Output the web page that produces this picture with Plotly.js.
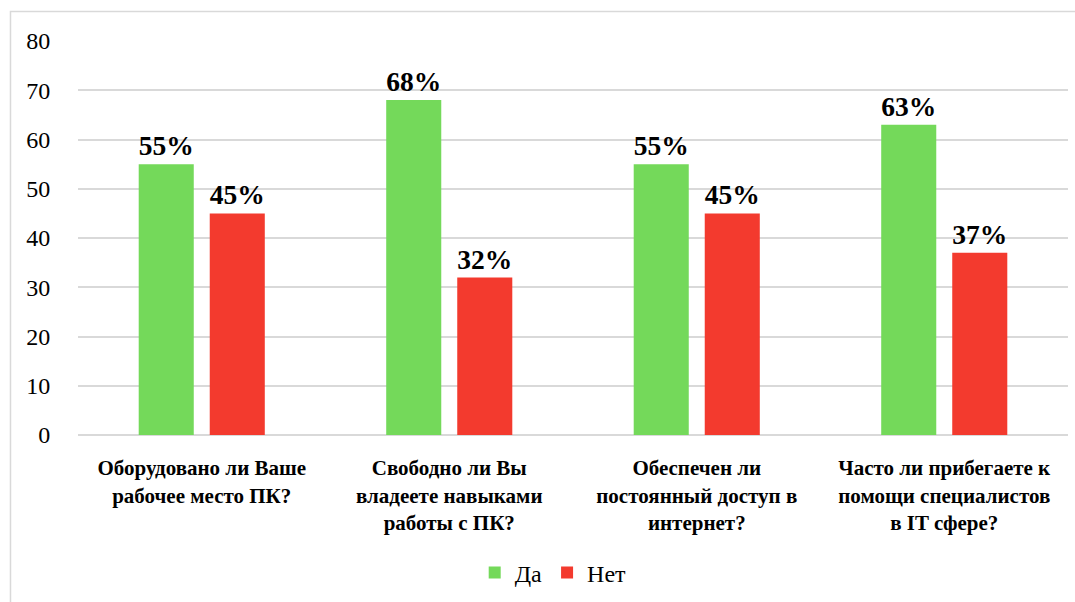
<!DOCTYPE html>
<html>
<head>
<meta charset="utf-8">
<script src="https://cdn.plot.ly/plotly-3.0.1.min.js"></script>
<style>html,body{margin:0;padding:0;background:#fff;}</style>
</head>
<body>
<div id="chart"></div>
<script>
const categories = [
  "Оборудовано ли Ваше<br>рабочее место ПК?",
  "Свободно ли Вы<br>владеете навыками<br>работы с ПК?",
  "Обеспечен ли<br>постоянный доступ в<br>интернет?",
  "Часто ли прибегаете к<br>помощи специалистов<br>в IT сфере?"
];
const seriesNames = ["Да", "Нет"];
const yesValues = [55, 68, 55, 63];
const noValues = [45, 32, 45, 37];
const yesLabels = ["55%", "68%", "55%", "63%"];
const noLabels = ["45%", "32%", "45%", "37%"];
const yTicks = [0, 10, 20, 30, 40, 50, 60, 70, 80];

const font = "Liberation Serif";
const bold = s => "<b>" + s + "</b>";
const labelFont = {family: font, size: 28, color: "#000"};

const traces = [
  {type: "bar", name: seriesNames[0], x: categories, y: yesValues, text: yesLabels.map(bold),
   textposition: "outside", textfont: labelFont, cliponaxis: false,
   marker: {color: "#74D95A"}, hoverinfo: "none"},
  {type: "bar", name: seriesNames[1], x: categories, y: noValues, text: noLabels.map(bold),
   textposition: "outside", textfont: labelFont, cliponaxis: false,
   marker: {color: "#F33A2E"}, hoverinfo: "none"}
];

const layout = {
  width: 1075, height: 602,
  margin: {l: 78, r: 7, t: 41, b: 167},
  paper_bgcolor: "#fff", plot_bgcolor: "#fff",
  barmode: "group", bargap: 0.426, bargroupgap: 0.225,
  font: {family: font, color: "#000"},
  showlegend: true,
  legend: {orientation: "h", x: 0.48, xanchor: "center", y: -0.35, yanchor: "middle",
           font: {family: font, size: 24, color: "#000"}, itemwidth: 30, traceorder: "normal"},
  xaxis: {type: "category", tickvals: categories, ticktext: categories.map(bold),
          tickfont: {family: font, size: 21, color: "#000"},
          ticks: "outside", ticklen: 14, tickcolor: "rgba(0,0,0,0)",
          showline: false, showgrid: false, zeroline: false},
  yaxis: {range: [0, 80], tickvals: yTicks, ticktext: yTicks.map(String),
          tickfont: {family: font, size: 24, color: "#000"},
          ticks: "outside", ticklen: 22, tickcolor: "rgba(0,0,0,0)",
          showgrid: true, gridcolor: "#d9d9d9", gridwidth: 1.5,
          zeroline: true, zerolinecolor: "#d9d9d9", zerolinewidth: 1.5, showline: false},
  shapes: [{type: "rect", xref: "paper", yref: "paper",
            x0: -0.0682, x1: 1.2, y0: 1.075, y1: -0.6,
            line: {color: "#d9d9d9", width: 1.5}, fillcolor: "rgba(0,0,0,0)", layer: "below"}]
};

Plotly.newPlot("chart", traces, layout, {displayModeBar: false});
</script>
</body>
</html>
